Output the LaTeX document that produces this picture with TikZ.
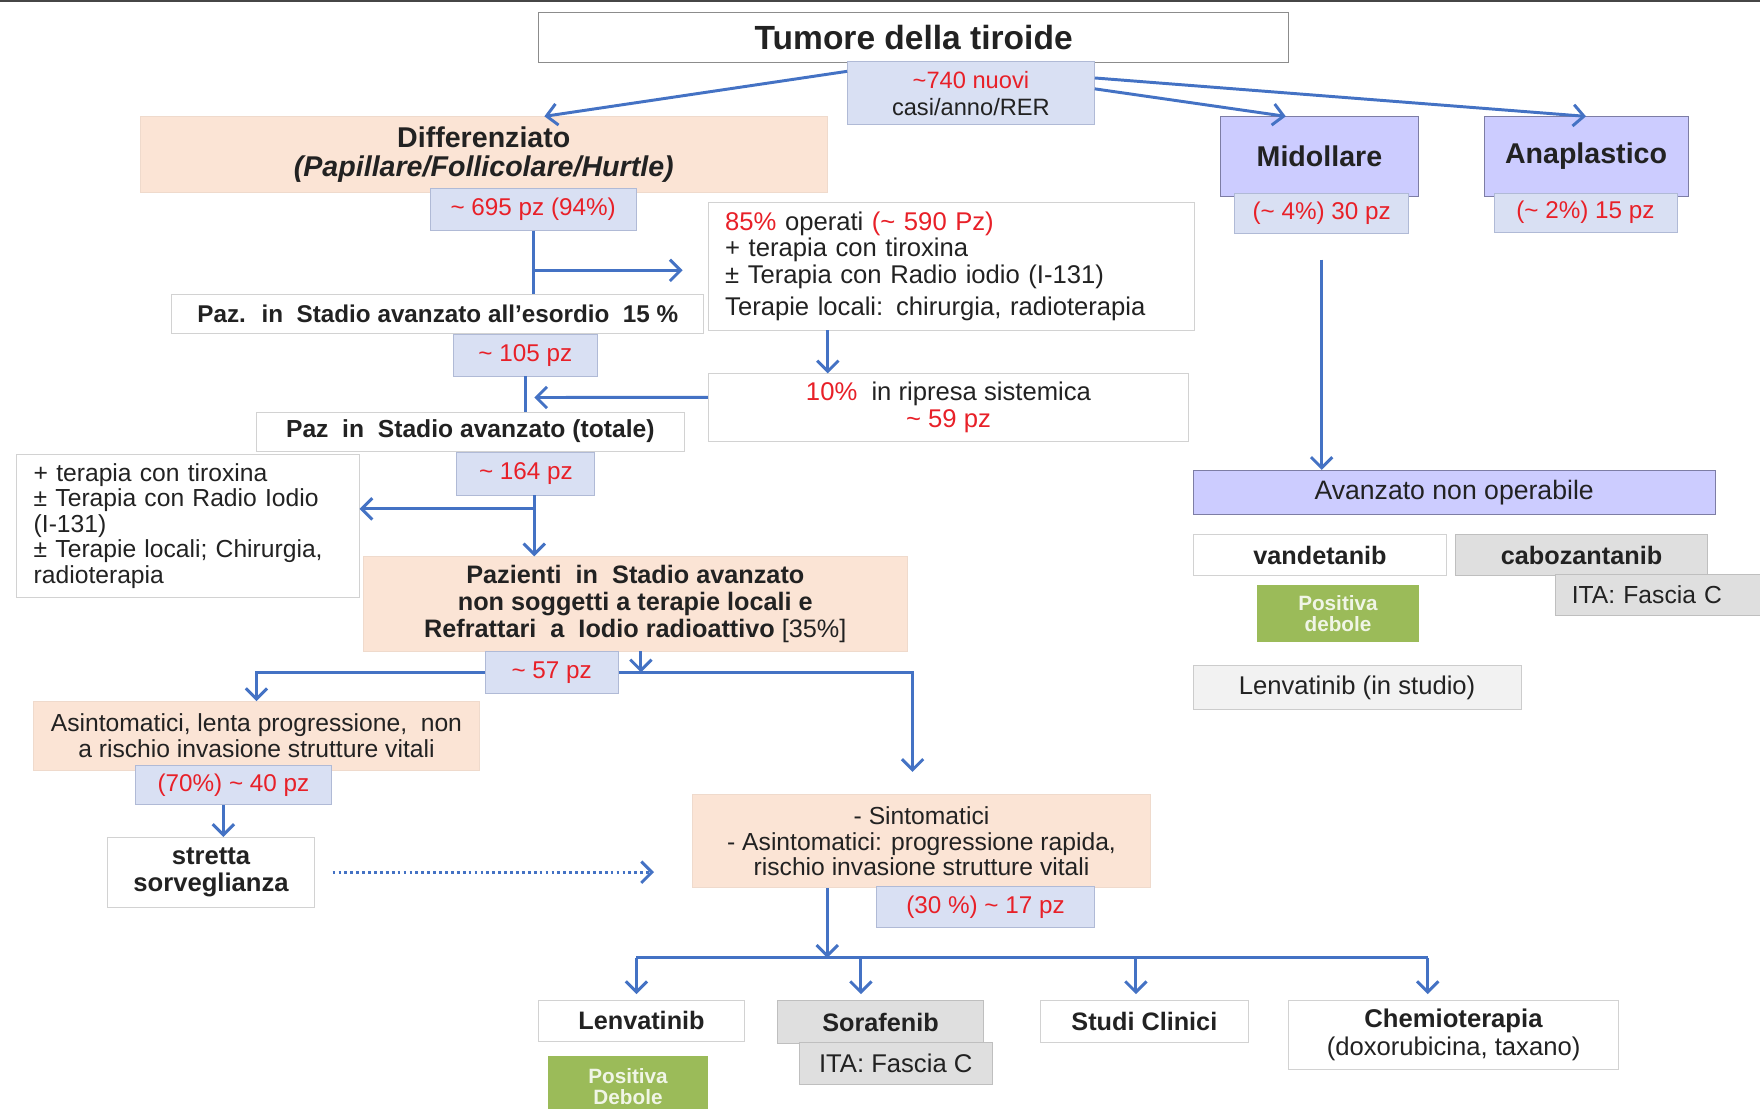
\documentclass[tikz,border=0pt]{standalone}
\usepackage{fontspec}
\setmainfont{Liberation Sans}
\usepackage{xcolor}
\usepackage{tikz}
\usetikzlibrary{arrows.meta, calc}
\definecolor{flowblue}{RGB}{68, 114, 196}
\definecolor{peachfill}{RGB}{251, 228, 213}
\definecolor{tagfill}{RGB}{217, 224, 243}
\definecolor{tagline}{RGB}{176, 186, 214}
\definecolor{lilacfill}{RGB}{204, 204, 255}
\definecolor{lilacline}{RGB}{125, 125, 165}
\definecolor{numred}{RGB}{232, 32, 40}
\definecolor{okgreen}{RGB}{155, 187, 89}
\definecolor{txtgray}{RGB}{34, 34, 34}
\newcommand{\rednum}[1]{\textcolor{numred}{#1}}

\begin{document}
\begin{tikzpicture}[
    x=0.02cm, y=-0.02cm,
    box/.style={draw=gray!35, fill=white, inner sep=0pt, align=center, text=txtgray, font=\fontsize{13}{13.6}\selectfont},
    boldbox/.style={box, font=\fontsize{12.8}{13.6}\selectfont\bfseries},
    titlebox/.style={box, draw=gray!90, font=\fontsize{17}{20}\selectfont\bfseries},
    tag/.style={draw=tagline, fill=tagfill, inner sep=0pt, align=center, text=numred, font=\fontsize{12.3}{14}\selectfont},
    warm/.style={draw=peachfill!90!gray, fill=peachfill, inner sep=0pt, align=center, text=txtgray, font=\fontsize{12.5}{12.8}\selectfont},
    lilac/.style={draw=lilacline, fill=lilacfill, inner sep=0pt, align=center, text=txtgray, font=\fontsize{14.5}{17}\selectfont\bfseries},
    greybox/.style={box, draw=gray!50, fill=gray!25},
    good/.style={fill=okgreen, inner sep=0pt, align=center, text=white!85!okgreen, font=\fontsize{10.5}{10.4}\selectfont\bfseries},
    flow/.style={line width=1.5pt, flowblue},
    arr/.style={flow, -{Straight Barb[length=1.9mm, width=3.8mm]}},
]
\useasboundingbox (0,0) rectangle (1568,988);
\clip (0,0) rectangle (1568,988);
\fill[white] (0,0) rectangle (1568,988);
\draw[line width=1.2pt, gray!55!black] (0,1) -- (1568,1);

% --- Top: tumour and the three histotypes ---
\node[titlebox, minimum width=13.36cm, minimum height=0.9cm] (tumore) at (814,33.5) {Tumore della tiroide};
\node[tag, text=txtgray, minimum width=4.4cm, minimum height=1.12cm, font=\fontsize{12}{13.6}\selectfont] (nuovi) at (865,83) {\rednum{\textasciitilde740 nuovi}\\casi/anno/RER};
\node[warm, minimum width=12.24cm, minimum height=1.34cm, font=\fontsize{14.5}{14.8}\selectfont\bfseries] (diff) at (431,137.5) {Differenziato\\\textit{(Papillare/Follicolare/Hurtle)}};
\node[tag, minimum width=3.68cm, minimum height=0.74cm] (n695) at (475,186.5) {\textasciitilde\ 695 pz (94\%)};
\node[lilac, minimum width=3.54cm, minimum height=1.42cm] (midol) at (1175.5,139.5) {Midollare};
\node[tag, minimum width=3.1cm, minimum height=0.72cm] (n30) at (1177.5,190) {(\textasciitilde\ 4\%) 30 pz};
\node[lilac, minimum width=3.64cm, minimum height=1.42cm] (anapl) at (1413,139.5) {Anaplastico};
\node[tag, minimum width=3.26cm, minimum height=0.7cm] (n15) at (1412.5,189.5) {(\textasciitilde\ 2\%) 15 pz};

% --- Differenziato branch ---
\node[box, minimum width=8.66cm, minimum height=2.28cm, text width=8.06cm, align=left] (operati) at (847.5,237) {\rednum{85\%} operati \rednum{(\textasciitilde\ 590 Pz)}\\
+ terapia con tiroxina\\
± Terapia con Radio iodio (I-131)\\[2.3pt]
Terapie locali: chirurgia, radioterapia};
\node[boldbox, font=\fontsize{12.3}{15}\selectfont\bfseries, minimum width=9.48cm, minimum height=0.7cm] (esordio) at (390,279.5) {Paz.~ in~ Stadio avanzato all'esordio~ 15 \%};
\node[tag, minimum width=2.56cm, minimum height=0.74cm] (n105) at (468,316.5) {\textasciitilde\ 105 pz};
\node[box, minimum width=8.56cm, minimum height=1.2cm] (ripresa) at (845,363) {\rednum{10\%}~ in ripresa sistemica\\\rednum{\textasciitilde\ 59 pz}};
\node[boldbox, font=\fontsize{12.5}{15}\selectfont\bfseries, minimum width=7.64cm, minimum height=0.7cm] (totale) at (419,384.5) {Paz~ in~ Stadio avanzato (totale)};
\node[tag, minimum width=2.46cm, minimum height=0.76cm] (n164) at (468.5,422) {\textasciitilde\ 164 pz};
\node[box, font=\fontsize{12.5}{12.9}\selectfont, minimum width=6.1cm, minimum height=2.54cm, text width=5.5cm, align=left] (terapia) at (167.5,468.5) {+ terapia con tiroxina\\
± Terapia con Radio Iodio\\
(I-131)\\
± Terapie locali; Chirurgia,\\
radioterapia};
\node[warm, font=\fontsize{12.8}{13.6}\selectfont\bfseries, minimum width=9.68cm, minimum height=1.68cm] (refr) at (566,538) {Pazienti~ in~ Stadio avanzato\\non soggetti a terapie locali e\\Refrattari~ a~ Iodio radioattivo {\mdseries[35\%]}};
\node[tag, minimum width=2.38cm, minimum height=0.76cm] (n57) at (491.5,599) {\textasciitilde\ 57 pz};

% --- Slow vs. fast progression ---
\node[warm, minimum width=7.94cm, minimum height=1.22cm] (asint) at (228.5,655.5) {Asintomatici, lenta progressione,~ non\\a rischio invasione strutture vitali};
\node[tag, minimum width=3.48cm, minimum height=0.7cm] (n40) at (208,699.5) {(70\%) \textasciitilde\ 40 pz};
\node[boldbox, font=\fontsize{13}{13.6}\selectfont\bfseries, minimum width=3.68cm, minimum height=1.24cm] (sorv) at (188,777) {stretta\\sorveglianza};
\node[warm, minimum width=8.16cm, minimum height=1.66cm] (sint) at (821,749.5) {- Sintomatici\\- Asintomatici: progressione rapida,\\rischio invasione strutture vitali};
\node[tag, minimum width=3.88cm, minimum height=0.72cm] (n17) at (878,808) {(30 \%) \textasciitilde\ 17 pz};

% --- Systemic therapies ---
\node[boldbox, minimum width=3.66cm, minimum height=0.74cm] (lenva) at (571.5,909.5) {Lenvatinib};
\node[good, minimum width=2.86cm, minimum height=1.08cm] (posb) at (559.5,968) {Positiva\\Debole};
\node[greybox, font=\fontsize{12.8}{13.6}\selectfont\bfseries, minimum width=3.66cm, minimum height=0.78cm] (sorafen) at (784.5,910.5) {Sorafenib};
\node[greybox, minimum width=3.44cm, minimum height=0.74cm] (itab) at (798,947.5) {ITA: Fascia C};
\node[boldbox, minimum width=3.7cm, minimum height=0.76cm] (studi) at (1019.5,910) {Studi Clinici};
\node[box, font=\fontsize{13}{14.2}\selectfont, minimum width=5.88cm, minimum height=1.24cm] (chemio) at (1295,922) {\textbf{Chemioterapia}\\(doxorubicina, taxano)};

% --- Midollare branch ---
\node[lilac, font=\fontsize{13.5}{15}\selectfont, minimum width=9.3cm, minimum height=0.78cm] (avnop) at (1295.5,438.5) {Avanzato non operabile};
\node[boldbox, minimum width=4.52cm, minimum height=0.74cm] (vand) at (1176,494.5) {vandetanib};
\node[greybox, font=\fontsize{12.8}{13.6}\selectfont\bfseries, minimum width=4.48cm, minimum height=0.74cm] (cabo) at (1409,494.5) {cabozantanib};
\node[greybox, font=\fontsize{12.5}{14}\selectfont, anchor=west, inner xsep=0.3cm, text width=3.5cm, align=left, minimum height=0.72cm] (itar) at (1385,530) {ITA: Fascia C};
\node[good, minimum width=2.88cm, minimum height=1.02cm] (posr) at (1192,546.5) {Positiva\\debole};
\node[box, draw=gray!40, fill=gray!10, minimum width=5.84cm, minimum height=0.78cm] (lenst) at (1209,612.5) {Lenvatinib (in studio)};

% --- Connectors: top ---
\draw[arr] (nuovi.170) -- ([xshift=1.08cm]diff.north);
\draw[arr] (nuovi.7) -- (anapl.north);
\draw[arr] (nuovi.2) -- ([xshift=-0.6cm]midol.north);

% --- Connectors: differenziato spine ---
\draw[flow] (n695.south) -- (n695.south |- esordio.north);
\coordinate (jop) at ($(n695.south)!0.63!(n695.south |- esordio.north)$);
\draw[arr] (jop) -- ([xshift=-0.45cm]operati.west |- jop);
\draw[arr] ([xshift=-2.2cm]operati.south) -- ([xshift=-2.2cm]operati.south |- ripresa.north);
\draw[flow] (n105.south) -- (n105.south |- totale.north);
\coordinate (jrip) at ($(n105.south)!0.6!(n105.south |- totale.north)$);
\draw[arr] ([yshift=0.18cm]ripresa.west) -- ([xshift=0.16cm]jrip);
\draw[arr] ([xshift=0.15cm]n164.south) -- ([xshift=0.15cm]n164.south |- refr.north);
\coordinate (jter) at ($([xshift=0.15cm]n164.south)!0.22!([xshift=0.15cm]n164.south |- refr.north)$);
\draw[arr] (jter) -- (terapia.east |- jter);

% --- Connectors: split at ~57 pz ---
\draw[arr] (n57.west) -| (asint.north);
\draw[arr] (n57.east) -| ([xshift=-0.16cm, yshift=0.4cm]sint.north);
\draw[arr] ([xshift=0.1cm]refr.south) -- ([xshift=0.1cm]refr.south |- n57.east);
\draw[arr] ([xshift=-0.18cm]n40.south) -- ([xshift=-0.18cm]n40.south |- sorv.north);
\draw[arr, dash pattern=on 1.4pt off 1.6pt] ([xshift=0.32cm]sorv.east) -- ([xshift=-0.68cm]sorv.east -| sint.west);

% --- Connectors: therapy bar ---
\coordinate (bar) at ([xshift=-1.68cm, yshift=-1.24cm]sint.south);
\draw[arr] ([xshift=-1.68cm]sint.south) -- (bar);
\draw[flow] ([xshift=-0.09cm]lenva.north |- bar) -- ([xshift=-0.46cm]chemio.north |- bar);
\draw[arr] ([xshift=-0.09cm]lenva.north |- bar) -- ([xshift=-0.09cm, yshift=0.1cm]lenva.north);
\draw[arr] ([xshift=-0.35cm]sorafen.north |- bar) -- ([xshift=-0.35cm, yshift=0.1cm]sorafen.north);
\draw[arr] ([xshift=-0.15cm]studi.north |- bar) -- ([xshift=-0.15cm, yshift=0.1cm]studi.north);
\draw[arr] ([xshift=-0.46cm]chemio.north |- bar) -- ([xshift=-0.46cm, yshift=0.1cm]chemio.north);

% --- Connector: midollare ---
\draw[arr] ([yshift=-0.46cm]n30.south) -- (n30.south |- avnop.north);

\end{tikzpicture}
\end{document}
